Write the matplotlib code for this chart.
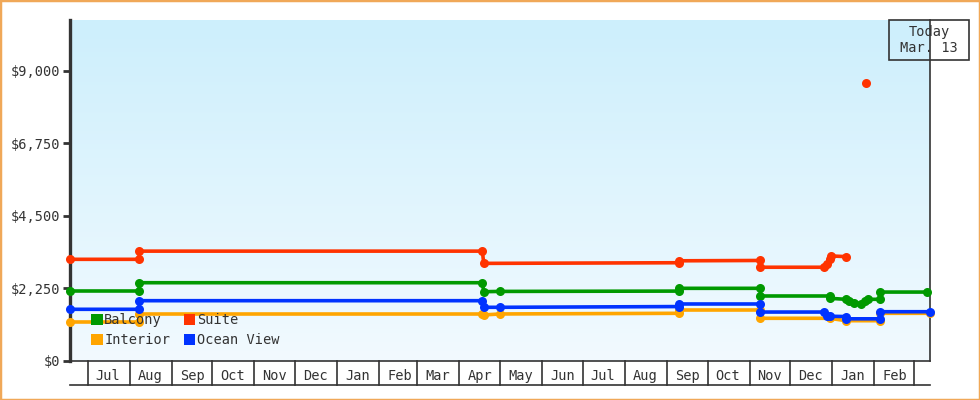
import numpy as np
import pandas as pd
import matplotlib
matplotlib.use("Agg")
import matplotlib.pyplot as plt
import matplotlib.dates as mdates
from matplotlib.patches import Patch, Rectangle
from matplotlib.transforms import blended_transform_factory

plt.rcParams['font.family'] = ['DejaVu Sans Mono']
plt.rcParams['font.size'] = 9.8

# price history per cabin type (date, price); pairs on one date are price changes
balcony_dates = ["2014-06-18", "2014-08-08", "2014-08-08", "2015-04-18", "2015-04-19",
                 "2015-05-01", "2015-09-10", "2015-09-10", "2015-11-09", "2015-11-09",
                 "2015-12-30", "2015-12-30", "2016-01-11", "2016-01-13", "2016-01-17",
                 "2016-01-22", "2016-01-25", "2016-01-27", "2016-02-05", "2016-02-05",
                 "2016-03-11"]
balcony_prices = [2163, 2163, 2420, 2420, 2141, 2150, 2160, 2246, 2246, 2008,
                  2008, 1936, 1905, 1850, 1800, 1770, 1860, 1905, 1905, 2130,
                  2130]

suite_dates = ["2014-06-18", "2014-08-08", "2014-08-08", "2015-04-18", "2015-04-19",
               "2015-09-10", "2015-09-10", "2015-11-09", "2015-11-09", "2015-12-26",
               "2015-12-28", "2015-12-30", "2015-12-31", "2016-01-11", "2016-01-18",
               "2016-01-26"]
suite_prices = [3146, 3146, 3400, 3400, 3020, 3040, 3100, 3110, 2900, 2900,
                3000, 3170, 3250, 3230, np.nan, 8630]

interior_dates = ["2014-06-18", "2014-08-08", "2014-08-08", "2015-04-18", "2015-04-19",
                  "2015-05-01", "2015-09-10", "2015-09-10", "2015-11-09", "2015-11-09",
                  "2015-12-30", "2016-01-11", "2016-02-05", "2016-02-05", "2016-03-13"]
interior_prices = [1201, 1201, 1449, 1449, 1420, 1450, 1471, 1573, 1573, 1316,
                   1316, 1241, 1241, 1471, 1471]

ocean_dates = ["2014-06-18", "2014-08-08", "2014-08-08", "2015-04-18", "2015-04-19",
               "2015-05-01", "2015-09-10", "2015-09-10", "2015-11-09", "2015-11-09",
               "2015-12-26", "2015-12-28", "2015-12-30", "2016-01-11", "2016-01-11",
               "2016-02-05", "2016-02-05", "2016-03-13"]
ocean_prices = [1595, 1595, 1862, 1862, 1657, 1657, 1680, 1760, 1760, 1510,
                1510, 1380, 1380, 1370, 1300, 1300, 1520, 1520]

series = [
    ("Balcony", balcony_dates, balcony_prices, "#009900"),
    ("Suite", suite_dates, suite_prices, "#ff3300"),
    ("Interior", interior_dates, interior_prices, "#ffa500"),
    ("Ocean View", ocean_dates, ocean_prices, "#0033ff"),
]

y_ticks = [0, 2250, 4500, 6750, 9000]
x_start = pd.Timestamp("2014-06-18")
today = pd.Timestamp("2016-03-13")
y_max = 10572
text_color = "#333333"

fig = plt.figure(figsize=(9.8, 4.0), dpi=100)
ax = fig.add_axes([70 / 980, 39.3 / 400, 860 / 980, 340.7 / 400])

# light blue gradient background
grad = np.linspace(0, 1, 256).reshape(-1, 1)
top_c = np.array([0xcd, 0xef, 0xfc]) / 255
bot_c = np.array([0xf2, 0xfa, 0xff]) / 255
img = top_c + (bot_c - top_c) * grad
img = np.repeat(img[:, None, :], 2, axis=1).reshape(256, 2, 3)
ax.imshow(img, extent=[0, 1, 0, 1], transform=ax.transAxes, aspect="auto", zorder=0)

for name, dates, prices, color in series:
    ax.plot(pd.to_datetime(dates), prices, color=color, lw=2.6, marker="o",
            markersize=6.5, markeredgewidth=0, zorder=3, clip_on=False)

ax.set_xlim(x_start, today)
ax.set_ylim(0, y_max)

# y axis
ax.set_yticks(y_ticks)
ax.set_yticklabels([f"${v:,.0f}" for v in y_ticks], color=text_color)
ax.tick_params(axis="y", length=5, width=2, color=text_color, pad=2)

# x axis: month boxes
months = pd.date_range("2014-07-01", "2016-03-01", freq="MS")
mids = months[:-1] + pd.Timedelta(days=15)
ax.set_xticks(mids)
ax.xaxis.set_major_formatter(mdates.DateFormatter("%b"))
ax.tick_params(axis="x", length=0, pad=6, colors=text_color)

trans = blended_transform_factory(ax.transData, ax.transAxes)
box_bottom = -24.5 / 340.7
for m in months:
    ax.plot([m, m], [0, box_bottom], color=text_color, lw=1.2, transform=trans, clip_on=False)
ax.plot([0, 1], [box_bottom, box_bottom], color=text_color, lw=1.2,
        transform=ax.transAxes, clip_on=False)

ax.spines["top"].set_visible(False)
ax.spines["left"].set_linewidth(2.4)
ax.spines["left"].set_color(text_color)
ax.spines["right"].set_linewidth(1.2)
ax.spines["right"].set_color(text_color)
ax.spines["bottom"].set_linewidth(1.2)
ax.spines["bottom"].set_color(text_color)

# legend: filled column-wise, so order gives rows Balcony/Suite, Interior/Ocean View
by_name = {n: c for n, _, _, c in series}
legend_order = ["Balcony", "Interior", "Suite", "Ocean View"]
handles = [Patch(facecolor=by_name[n], edgecolor="none", label=n) for n in legend_order]
leg = ax.legend(handles=handles, ncol=2, loc="lower left", bbox_to_anchor=(0.012, 0.008),
                frameon=False, handlelength=0.85, handleheight=0.85, handletextpad=0.1,
                columnspacing=1.0, labelspacing=0.45, borderpad=0.3)
for t in leg.get_texts():
    t.set_color(text_color)

# today marker box
fig.patches.append(Rectangle((889 / 980, 340 / 400), 80 / 980, 40 / 400, fill=False,
                             edgecolor=text_color, lw=1.2, transform=fig.transFigure))
fig.text(929 / 980, 360 / 400, "Today\n" + "Mar. " + str(today.day), ha="center", va="center",
         color=text_color, linespacing=1.25)

# orange frame around the whole picture
fig.patches.append(Rectangle((0, 0), 1, 1, fill=False, edgecolor="#f0a858", lw=2.5,
                             transform=fig.transFigure))

fig.savefig("out.png", dpi=100)
